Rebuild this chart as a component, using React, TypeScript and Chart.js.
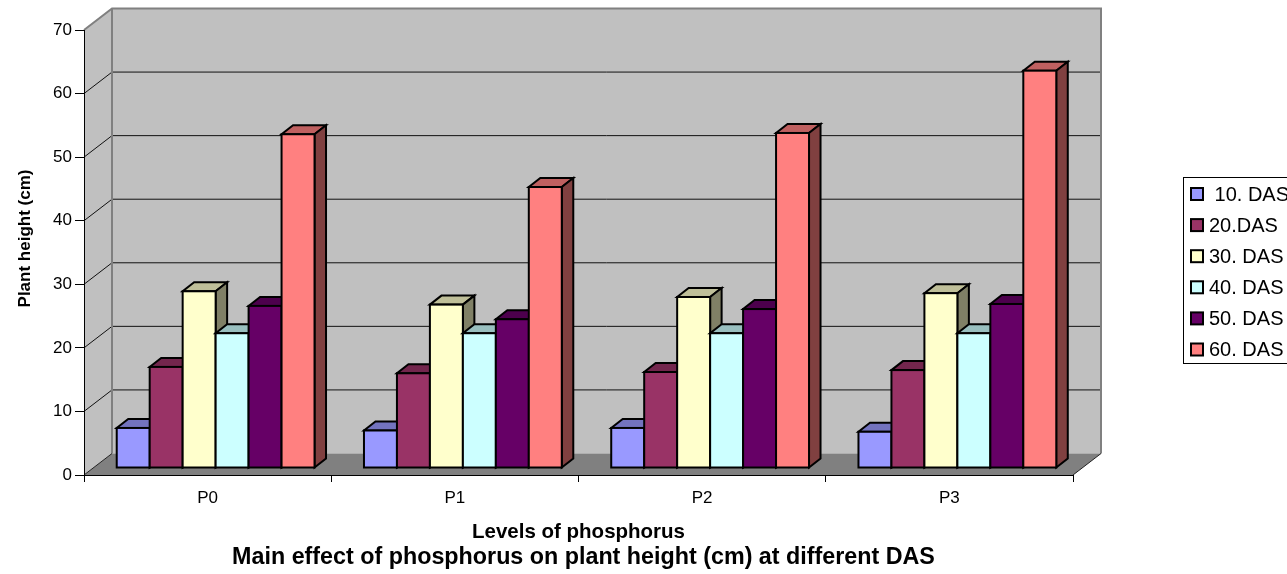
import React, { useEffect, useRef } from "react";
import { Chart, registerables } from "chart.js";

Chart.register(...registerables);

const categories = ["P0", "P1", "P2", "P3"];
const seriesNames = [" 10. DAS", "20.DAS", "30. DAS", "40. DAS", "50. DAS", "60. DAS"];
const das10 = [6.3, 5.9, 6.3, 5.7];
const das20 = [15.9, 14.9, 15.1, 15.4];
const das30 = [27.8, 25.7, 26.9, 27.5];
const das40 = [21.2, 21.2, 21.2, 21.2];
const das50 = [25.5, 23.4, 25.0, 25.8];
const das60 = [52.5, 44.2, 52.7, 62.5];
const seriesValues = [das10, das20, das30, das40, das50, das60];
const seriesColors = ["#9999FF", "#993366", "#FFFFCC", "#CCFFFF", "#660066", "#FF8080"];

const FONT = '"Liberation Sans", Arial, sans-serif';
const WALL_DX = 28;
const WALL_DY = -21.5;
const BAR_SHIFT_X = 8;
const BAR_SHIFT_Y = -7;
const BAR_DEPTH_X = 11.5;
const BAR_DEPTH_Y = -9;

function shade(hex: string, k: number) {
  const n = parseInt(hex.slice(1), 16);
  const r = Math.round(((n >> 16) & 255) * k);
  const g = Math.round(((n >> 8) & 255) * k);
  const b = Math.round((n & 255) * k);
  return `rgb(${r},${g},${b})`;
}

function poly(ctx: CanvasRenderingContext2D, pts: number[][]) {
  ctx.beginPath();
  pts.forEach((p, i) => (i ? ctx.lineTo(p[0], p[1]) : ctx.moveTo(p[0], p[1])));
  ctx.closePath();
}

const scene3d = {
  id: "scene3d",
  afterLayout(chart: any) {
    chart.titleBlock.left += 5;
    chart.titleBlock.right += 5;
    const ys = chart.scales.y;
    if (!ys.__shifted) {
      ys.__shifted = true;
      const orig = ys.drawTitle;
      ys.drawTitle = function () {
        this.ctx.save();
        this.ctx.translate(0, -14);
        orig.call(this);
        this.ctx.restore();
      };
    }
  },
  beforeDraw(chart: any) {
    const { ctx, chartArea: a, scales } = chart;
    const y = scales.y;
    const bx = a.left + WALL_DX;
    const rx = a.right + WALL_DX;
    const ty = a.top + WALL_DY;
    const by = a.bottom + WALL_DY;
    ctx.save();
    ctx.fillStyle = "#C0C0C0";
    ctx.fillRect(bx, ty, rx - bx, by - ty);
    poly(ctx, [[a.left, a.top], [bx, ty], [bx, by], [a.left, a.bottom]]);
    ctx.fill();
    ctx.fillStyle = "#808080";
    poly(ctx, [[a.left, a.bottom], [a.right, a.bottom], [rx, by], [bx, by]]);
    ctx.fill();

    ctx.lineWidth = 1;
    ctx.strokeStyle = "#111";
    y.ticks.forEach((t: any) => {
      if (t.value === 0 || t.value === y.max) return;
      const py = y.getPixelForValue(t.value);
      ctx.beginPath();
      ctx.moveTo(a.left, py);
      ctx.lineTo(bx, py + WALL_DY);
      ctx.lineTo(rx, py + WALL_DY);
      ctx.stroke();
    });

    ctx.strokeStyle = "#808080";
    ctx.lineWidth = 2;
    ctx.beginPath();
    ctx.moveTo(a.left, a.top);
    ctx.lineTo(bx, ty);
    ctx.lineTo(rx, ty);
    ctx.lineTo(rx, by);
    ctx.moveTo(bx, ty);
    ctx.lineTo(bx, by);
    ctx.stroke();

    ctx.strokeStyle = "#222";
    ctx.lineWidth = 1;
    ctx.beginPath();
    ctx.moveTo(a.left, a.bottom);
    ctx.lineTo(bx, by);
    ctx.moveTo(a.right, a.bottom);
    ctx.lineTo(rx, by);
    ctx.stroke();
    ctx.restore();
  },
  beforeDatasetsDraw(chart: any) {
    const { ctx } = chart;
    ctx.save();
    ctx.lineJoin = "miter";
    ctx.lineWidth = 2;
    ctx.strokeStyle = "#000";
    categories.forEach((_, c) => {
      chart.data.datasets.forEach((ds: any, d: number) => {
        const el = chart.getDatasetMeta(d).data[c];
        const col = ds.backgroundColor as string;
        const l = el.x - el.width / 2 + BAR_SHIFT_X;
        const r = el.x + el.width / 2 + BAR_SHIFT_X;
        const t = el.y + BAR_SHIFT_Y;
        const b = el.base + BAR_SHIFT_Y;
        ctx.fillStyle = shade(col, 0.75);
        poly(ctx, [[l, t], [r, t], [r + BAR_DEPTH_X, t + BAR_DEPTH_Y], [l + BAR_DEPTH_X, t + BAR_DEPTH_Y]]);
        ctx.fill();
        ctx.stroke();
        ctx.fillStyle = shade(col, 0.5);
        poly(ctx, [[r, t], [r + BAR_DEPTH_X, t + BAR_DEPTH_Y], [r + BAR_DEPTH_X, b + BAR_DEPTH_Y], [r, b]]);
        ctx.fill();
        ctx.stroke();
        ctx.fillStyle = col;
        ctx.fillRect(l, t, r - l, b - t);
        ctx.strokeRect(l, t, r - l, b - t);
      });
    });
    ctx.restore();
    return false;
  },
  afterDraw(chart: any) {
    const { ctx } = chart;
    ctx.save();
    ctx.fillStyle = "#fff";
    ctx.strokeStyle = "#000";
    ctx.lineWidth = 1;
    ctx.fillRect(1183.5, 177.5, 130, 186);
    ctx.strokeRect(1183.5, 177.5, 130, 186);
    ctx.font = `20px ${FONT}`;
    ctx.textBaseline = "middle";
    chart.data.datasets.forEach((ds: any, i: number) => {
      const cy = 194 + i * 31.1;
      ctx.fillStyle = ds.backgroundColor;
      ctx.lineWidth = 2;
      ctx.fillRect(1191, cy - 6, 12, 12);
      ctx.strokeRect(1191, cy - 6, 12, 12);
      ctx.fillStyle = "#000";
      ctx.fillText(ds.label, 1209, cy + 1);
    });
    ctx.restore();
  },
};

export default function App() {
  const ref = useRef<HTMLCanvasElement>(null);
  useEffect(() => {
    document.body.style.margin = "0";
    const chart = new Chart(ref.current!, {
      type: "bar",
      data: {
        labels: categories,
        datasets: seriesNames.map((label, i) => ({
          label,
          data: seriesValues[i],
          backgroundColor: seriesColors[i],
          barPercentage: 1,
          categoryPercentage: 0.8,
        })),
      },
      plugins: [scene3d],
      options: {
        responsive: false,
        animation: false,
        layout: { padding: { left: 0, top: 30, right: 214, bottom: 0 } },
        plugins: {
          legend: { display: false },
          tooltip: { enabled: false },
          title: {
            display: true,
            position: "bottom",
            fullSize: false,
            text: "Main effect of phosphorus on plant height (cm) at different DAS",
            color: "#000",
            font: { family: FONT, size: 23.3, weight: "bold", lineHeight: 1 },
            padding: { top: 0, bottom: 5 },
          },
        },
        scales: {
          x: {
            afterFit: (s: any) => { s.height = 70.7; },
            grid: { drawOnChartArea: false, drawTicks: true, tickLength: 7, color: "#000", offset: true },
            border: { color: "#000", width: 1 },
            ticks: { color: "#000", padding: 6, font: { family: FONT, size: 17 }, maxRotation: 0 },
            title: {
              display: true,
              text: "Levels of phosphorus",
              color: "#000",
              font: { family: FONT, size: 20.5, weight: "bold", lineHeight: 1 },
              padding: { top: 0, bottom: 3 },
            },
          },
          y: {
            min: 0,
            max: 70,
            afterFit: (s: any) => { s.width = 84; },
            grid: { drawOnChartArea: false, drawTicks: true, tickLength: 9, color: "#000" },
            border: { color: "#000", width: 1 },
            ticks: { stepSize: 10, color: "#000", padding: 3, font: { family: FONT, size: 17 } },
            title: {
              display: true,
              text: "Plant height (cm)",
              color: "#000",
              font: { family: FONT, size: 17, weight: "bold", lineHeight: 1.2 },
              padding: { top: 15, bottom: 0 },
            },
          },
        },
      },
    } as any);
    return () => chart.destroy();
  }, []);
  return <canvas ref={ref} width={1287} height={574} style={{ display: "block" }} />;
}
